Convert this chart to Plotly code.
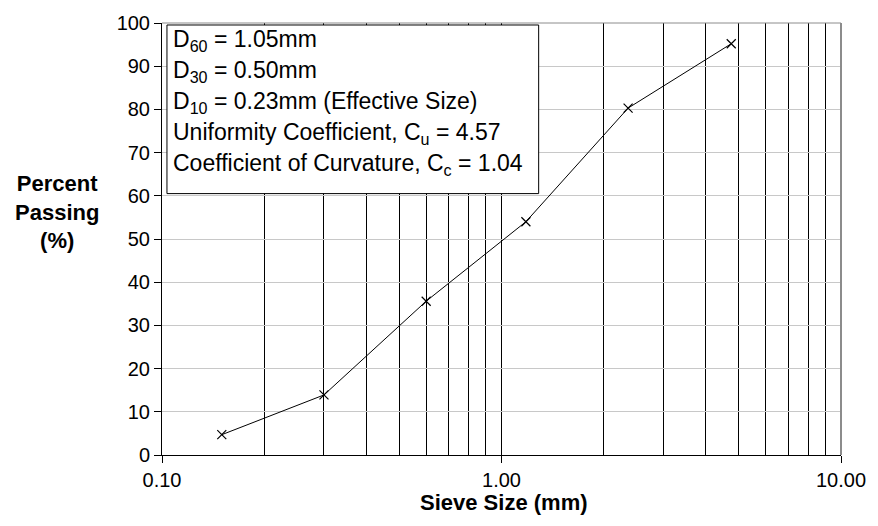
import plotly.graph_objects as go

# ---- data ----
sieve_mm = [0.15, 0.30, 0.60, 1.18, 2.36, 4.75]
percent_passing = [4.7, 13.9, 35.6, 54.0, 80.3, 95.2]

x_major_ticks = [0.1, 1, 10]
x_major_text = ["0.10", "1.00", "10.00"]
x_minor_grid = [0.2, 0.3, 0.4, 0.5, 0.6, 0.7, 0.8, 0.9, 2, 3, 4, 5, 6, 7, 8, 9]

info_lines = [
    "D<sub>60</sub> = 1.05mm",
    "D<sub>30</sub> = 0.50mm",
    "D<sub>10</sub> = 0.23mm (Effective Size)",
    "Uniformity Coefficient, C<sub>u</sub> = 4.57",
    "Coefficient of Curvature, C<sub>c</sub> = 1.04",
]

W, H = 878, 526
L, R, T, B = 162, 31, 22, 71
PW, PH = W - L - R, H - T - B

def px(xp):
    return (xp - L) / PW

def py(yp):
    return (H - B - yp) / PH

FONT = "Liberation Sans"

fig = go.Figure()
fig.add_trace(go.Scatter(
    x=sieve_mm, y=percent_passing, mode="lines+markers",
    line=dict(color="black", width=1),
    marker=dict(symbol="x-thin", size=9, line=dict(color="black", width=1.2), color="black"),
    showlegend=False, cliponaxis=False,
))

fig.update_layout(
    width=W, height=H,
    margin=dict(l=L, r=R, t=T, b=B, pad=0),
    paper_bgcolor="white", plot_bgcolor="white",
    font=dict(family=FONT, size=20, color="black"),
    xaxis=dict(
        type="log", range=[-1, 1],
        tickmode="array", tickvals=x_major_ticks, ticktext=x_major_text,
        ticks="outside", ticklen=7, tickcolor="black", tickwidth=1,
        showline=True, linecolor="black", linewidth=1,
        showgrid=True, gridcolor="black", gridwidth=1,
        minor=dict(tickmode="array", tickvals=x_minor_grid, showgrid=True,
                   gridcolor="black", gridwidth=1, ticks=""),
        zeroline=False,
        tickfont=dict(family=FONT, size=20),
    ),
    yaxis=dict(
        range=[0, 100], dtick=10, tick0=0,
        ticks="outside", ticklen=7, tickcolor="black", tickwidth=1,
        showline=True, linecolor="black", linewidth=1,
        showgrid=True, gridcolor="#c8c8c8", gridwidth=1,
        zeroline=False,
        tickfont=dict(family=FONT, size=20),
    ),
)

# plot-area top and right border (gray)
fig.add_shape(type="line", xref="paper", yref="paper", x0=0, x1=1, y0=1, y1=1,
              line=dict(color="#8c8c8c", width=1), layer="above")
fig.add_shape(type="line", xref="paper", yref="paper", x0=1, x1=1, y0=0, y1=1,
              line=dict(color="#8c8c8c", width=2), layer="above")

# info box
fig.add_shape(type="rect", xref="paper", yref="paper",
              x0=px(167), x1=px(542), y0=py(193), y1=py(24),
              line=dict(color="black", width=1), fillcolor="white", layer="above")

line_centers = [37.5, 68.5, 99.5, 130.5, 161.5]
for txt, yc in zip(info_lines, line_centers):
    fig.add_annotation(
        text=txt, xref="paper", yref="paper", x=px(171), y=py(yc + 2),
        xanchor="left", yanchor="middle", showarrow=False,
        font=dict(family=FONT, size=23, color="black"),
    )

# axis titles
fig.add_annotation(
    text="<b>Percent<br>Passing<br>(%)</b>", xref="paper", yref="paper",
    x=px(56), y=py(211), xanchor="center", yanchor="middle", showarrow=False,
    font=dict(family=FONT, size=22, color="black"), align="center",
)
fig.add_annotation(
    text="<b>Sieve Size (mm)</b>", xref="paper", yref="paper",
    x=px(507), y=py(503), xanchor="center", yanchor="middle", showarrow=False,
    font=dict(family=FONT, size=22, color="black"),
)

fig.write_html("out.html")
